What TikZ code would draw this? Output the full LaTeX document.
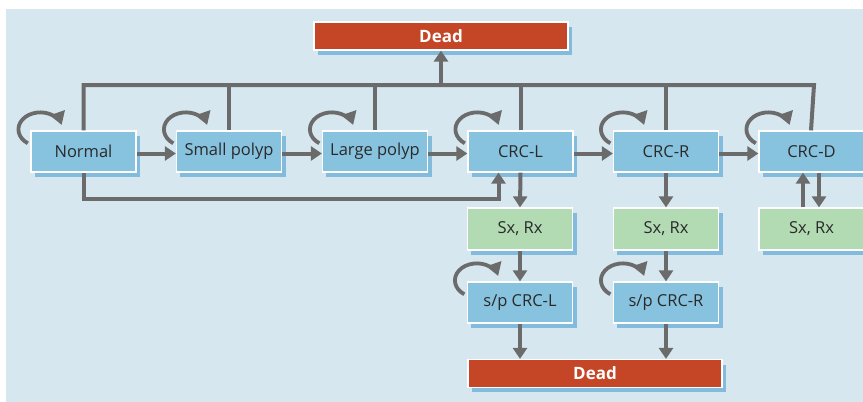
\documentclass[tikz,border=0pt]{standalone}
\usepackage{fontspec}
\setmainfont{Open Sans}
\usetikzlibrary{arrows.meta}
\definecolor{bgc}{HTML}{D7E7F0}
\definecolor{boxblue}{HTML}{87C3DE}
\definecolor{boxgreen}{HTML}{B2DBB4}
\definecolor{deadred}{HTML}{C44626}
\definecolor{shadowc}{HTML}{6DB0D8}
\definecolor{linec}{HTML}{6B6B6B}
\definecolor{txt}{HTML}{2A2A2A}
\begin{document}
\begin{tikzpicture}[x=1pt,y=-1pt,
  stbox/.style={draw=white,line width=1.2pt,minimum width=105pt,minimum height=41pt,inner sep=0pt,
    text=txt,font=\fontsize{16.5}{19}\selectfont},
  bluebox/.style={stbox,fill=boxblue},
  greenbox/.style={stbox,fill=boxgreen},
  deadbox/.style={draw=white,line width=1.2pt,fill=deadred,minimum height=28pt,inner sep=0pt,
    text=white,font=\fontsize{17}{19}\selectfont\bfseries},
  conn/.style={draw=linec,line width=4pt},
  arr/.style={conn,-{Triangle[width=14pt,length=11pt]}},
  looparr/.style={conn,line width=3.8pt,-{Triangle[width=15pt,length=13pt]}},
  shadow/.style={fill=shadowc,opacity=0.8}
]
\useasboundingbox (0,0) rectangle (863,402);
\fill[white] (0,0) rectangle (863,402);
\fill[bgc] (6,9) rectangle (863,402);

% shadows
\foreach \x/\y/\w/\h in {314/22/254/28, 31/131/105/41, 176/131/106/41, 322/131/106/41, 468/131/105/41,
  613/131/106/41, 759/131/110/41, 467/208/106/42, 613/208/106/42, 759/208/110/42,
  467/282/106/41, 613/282/106/41, 468/360/254/27}
  \fill[shadow] (\x+4,\y+5) rectangle ++(\w,\h);

% boxes
\node[deadbox,minimum width=254pt] (dead1) at (441,36) {Dead};
\node[bluebox] (normal) at (83.5,151.5) {Normal};
\node[bluebox] (small) at (229,151.5) {Small polyp};
\node[bluebox] (large) at (375,151.5) {Large polyp};
\node[bluebox] (crcl) at (520.5,151.5) {CRC-L};
\node[bluebox] (crcr) at (666,151.5) {CRC-R};
\node[bluebox,minimum width=110pt] (crcd) at (814,151.5) {\hspace*{-5pt}CRC-D};
\node[greenbox,minimum height=42pt] (sx1) at (520,229) {Sx, Rx};
\node[greenbox,minimum height=42pt] (sx2) at (666,229) {Sx, Rx};
\node[greenbox,minimum height=42pt,minimum width=110pt] (sx3) at (814,229) {\hspace*{-5pt}Sx, Rx};
\node[bluebox] (spl) at (520,302.5) {s/p CRC-L};
\node[bluebox] (spr) at (666,302.5) {s/p CRC-R};
\node[deadbox,minimum width=254pt] (dead2) at (595,373.5) {Dead};

% bus to top Dead
\coordinate (busy) at (0,85);
\draw[conn,line cap=butt] (normal.north) -- (normal.north |- busy) -- (crcd.north |- busy) -- ([xshift=-3pt]crcd.north);
\foreach \n in {small,large,crcl,crcr}
  \draw[conn] (\n.north) -- (\n.north |- busy);
\coordinate (busmid) at (dead1.south |- busy);
\draw[arr] (busmid) -- (dead1.south);

% horizontal progression
\draw[arr] ([yshift=-2pt]normal.east) -- ([yshift=-2pt]small.west);
\draw[arr] ([yshift=-2pt]small.east) -- ([yshift=-2pt]large.west);
\draw[arr] ([yshift=-2pt]large.east) -- ([yshift=-2pt]crcl.west);
\draw[arr] ([yshift=-2pt]crcl.east) -- ([yshift=-2pt]crcr.west);
\draw[arr] ([yshift=-2pt]crcr.east) -- ([yshift=-2pt]crcd.west);

% feedback from Normal to CRC-L
\coordinate (fb) at (0,199);
\draw[arr] (normal.south) -- (normal.south |- fb) -| ([xshift=-22pt]crcl.south);

% vertical
\draw[arr] (crcl.south) -- (sx1.north);
\draw[arr] (crcr.south) -- (sx2.north);
\draw[arr] (sx1.south) -- (spl.north);
\draw[arr] (sx2.south) -- (spr.north);
\draw[arr] (spl.south) -- (spl.south |- dead2.north);
\draw[arr] (spr.south) -- (spr.south |- dead2.north);
\draw[arr] ([xshift=-11pt]sx3.north) -- ([xshift=-11pt]crcd.south);
\draw[arr] ([xshift=5pt]crcd.south) -- ([xshift=5pt]sx3.north);

% self loops
\foreach \n in {normal,small,large,crcl,crcr,crcd,spl,spr}
  \draw[looparr] ([xshift=10pt,yshift=1pt]\n.north west) ++(-12.6pt,-13.9pt)
     arc[start angle=235,end angle=15,x radius=22pt,y radius=17pt];
\end{tikzpicture}
\end{document}
